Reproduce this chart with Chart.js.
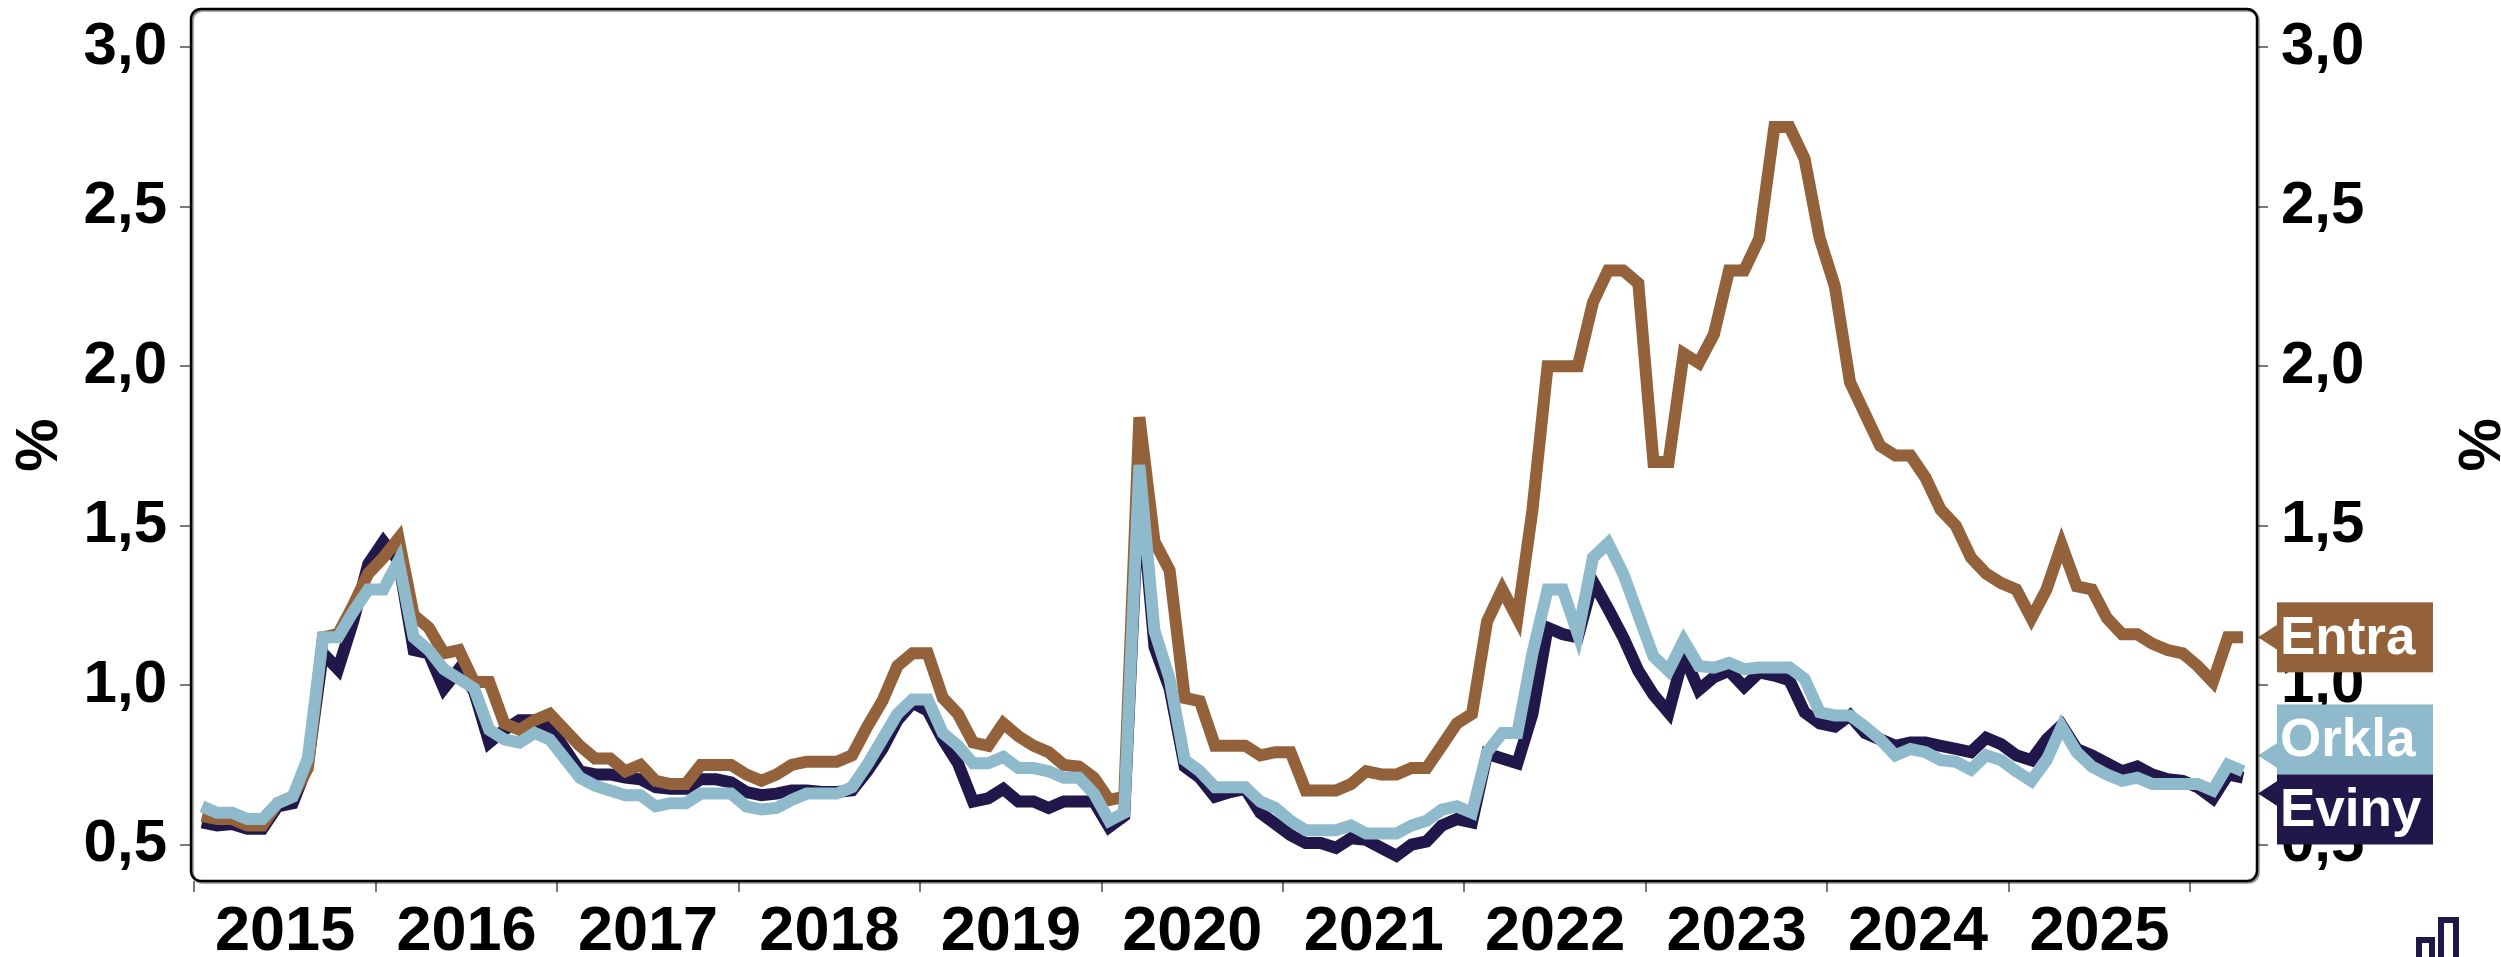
<!DOCTYPE html>
<html>
<head>
<meta charset="utf-8">
<script src="https://cdn.jsdelivr.net/npm/chart.js@4.4.1/dist/chart.umd.min.js"></script>
<style>
  html, body { margin: 0; padding: 0; background: #ffffff; }
  #wrap { width: 2501px; height: 957px; position: relative; }
</style>
</head>
<body>
<div id="wrap"><canvas id="c"></canvas></div>
<script>
// ---- data (monthly, Jan 2015 .. Apr 2026) ----
const yearLabels = ['2015','2016','2017','2018','2019','2020','2021','2022','2023','2024','2025'];
const yearTickCount = 12; // boundaries 2015..2026
const yTicks = [0.5, 1.0, 1.5, 2.0, 2.5, 3.0];
const seriesNames = ['Orkla', 'Entra', 'Eviny'];
const seriesColors = ['#8FBACB', '#94623A', '#21174A'];

const entra = [
  0.59,0.58,0.58,0.56,0.56,0.63,0.65,0.74,1.15,1.16,1.25,1.35,
  1.40,1.46,1.22,1.18,1.10,1.11,1.01,1.01,0.88,0.86,0.89,0.91,
  0.86,0.81,0.77,0.77,0.73,0.75,0.70,0.69,0.69,0.75,0.75,0.75,
  0.72,0.70,0.72,0.75,0.76,0.76,0.76,0.78,0.87,0.95,1.06,1.10,
  1.10,0.96,0.91,0.82,0.81,0.88,0.84,0.81,0.79,0.75,0.745,0.71,
  0.64,0.65,1.84,1.45,1.36,0.96,0.95,0.81,0.81,0.81,0.78,0.79,
  0.79,0.67,0.67,0.67,0.69,0.73,0.72,0.72,0.74,0.74,0.81,0.88,
  0.91,1.20,1.30,1.21,1.55,2.00,2.00,2.00,2.20,2.30,2.30,2.26,
  1.70,1.70,2.04,2.01,2.10,2.30,2.30,2.40,2.75,2.75,2.65,2.40,
  2.25,1.95,1.85,1.75,1.72,1.72,1.65,1.55,1.50,1.40,1.35,1.32,
  1.30,1.21,1.30,1.44,1.31,1.30,1.21,1.16,1.16,1.13,1.11,1.10,
  1.06,1.01,1.15,1.15
];
const orkla = [
  0.62,0.60,0.60,0.58,0.58,0.63,0.65,0.77,1.15,1.15,1.23,1.30,
  1.30,1.39,1.15,1.11,1.05,1.02,0.99,0.86,0.83,0.82,0.85,0.83,
  0.77,0.71,0.685,0.67,0.655,0.655,0.62,0.63,0.63,0.66,0.66,0.66,
  0.62,0.61,0.615,0.64,0.66,0.66,0.66,0.68,0.75,0.83,0.91,0.955,
  0.955,0.85,0.81,0.755,0.755,0.775,0.74,0.74,0.73,0.71,0.71,0.66,
  0.575,0.60,1.69,1.17,1.02,0.765,0.73,0.68,0.68,0.68,0.635,0.615,
  0.575,0.545,0.545,0.545,0.56,0.535,0.535,0.535,0.56,0.575,0.61,0.62,
  0.60,0.79,0.85,0.85,1.10,1.30,1.30,1.16,1.40,1.445,1.35,1.22,
  1.09,1.045,1.14,1.06,1.055,1.07,1.05,1.055,1.055,1.055,1.02,0.915,
  0.905,0.905,0.87,0.83,0.78,0.80,0.79,0.765,0.76,0.735,0.78,0.765,
  0.73,0.70,0.765,0.87,0.79,0.745,0.72,0.70,0.71,0.69,0.69,0.69,
  0.69,0.67,0.75,0.73
];
const eviny = [
  0.57,0.56,0.565,0.55,0.55,0.62,0.63,0.75,1.10,1.05,1.20,1.38,
  1.45,1.39,1.11,1.10,0.99,1.05,0.98,0.82,0.86,0.89,0.89,0.87,
  0.80,0.73,0.72,0.72,0.71,0.705,0.68,0.675,0.675,0.705,0.705,0.695,
  0.665,0.655,0.66,0.67,0.67,0.665,0.665,0.67,0.73,0.80,0.89,0.945,
  0.92,0.83,0.755,0.635,0.645,0.675,0.635,0.635,0.615,0.635,0.635,0.635,
  0.555,0.59,1.65,1.12,0.99,0.745,0.71,0.65,0.665,0.675,0.60,0.565,
  0.53,0.505,0.505,0.49,0.52,0.515,0.49,0.465,0.50,0.51,0.56,0.58,
  0.57,0.785,0.77,0.755,0.91,1.18,1.16,1.15,1.325,1.24,1.15,1.045,
  0.97,0.914,1.095,0.985,1.025,1.045,0.995,1.04,1.03,1.015,0.915,0.88,
  0.87,0.905,0.85,0.83,0.81,0.82,0.82,0.81,0.80,0.79,0.835,0.815,
  0.78,0.765,0.83,0.875,0.80,0.78,0.755,0.73,0.745,0.72,0.705,0.70,
  0.68,0.645,0.72,0.71
];
const seriesValues = [orkla, entra, eviny];

// ---- helpers ----
const FONT = "'Liberation Sans', Arial, sans-serif";
const toPoints = arr => arr.map((v, i) => ({ x: i + 0.5, y: v }));
const fmt = v => v.toFixed(1).replace('.', ',');
const noPad = s => { s.paddingTop = 0; s.paddingBottom = 0; s.paddingLeft = 0; s.paddingRight = 0; };

const frameAndDecor = {
  id: 'frameAndDecor',
  afterDraw(chart) {
    const ctx = chart.ctx, a = chart.chartArea;
    ctx.save();
    const r = 10, x0 = a.left, y0 = a.top, x1 = a.right, y1 = a.bottom;
    ctx.beginPath();
    ctx.moveTo(x0 + r, y0);
    ctx.lineTo(x1 - r, y0); ctx.arcTo(x1, y0, x1, y0 + r, r);
    ctx.lineTo(x1, y1 - r); ctx.arcTo(x1, y1, x1 - r, y1, r);
    ctx.lineTo(x0 + r, y1); ctx.arcTo(x0, y1, x0, y1 - r, r);
    ctx.lineTo(x0, y0 + r); ctx.arcTo(x0, y0, x0 + r, y0, r);
    ctx.closePath();
    ctx.shadowColor = 'rgba(0,0,0,0.45)';
    ctx.shadowOffsetX = 1.5; ctx.shadowOffsetY = 1.5; ctx.shadowBlur = 1;
    ctx.lineWidth = 2.5; ctx.strokeStyle = '#000';
    ctx.stroke();
    ctx.restore();

    // small logo glyph at bottom right
    ctx.save();
    ctx.strokeStyle = '#21174A'; ctx.lineWidth = 6;
    ctx.beginPath();
    ctx.moveTo(2419, 960); ctx.lineTo(2419, 940); ctx.lineTo(2432, 940); ctx.lineTo(2432, 960);
    ctx.moveTo(2441, 960); ctx.lineTo(2441, 920); ctx.lineTo(2456, 920); ctx.lineTo(2456, 960);
    ctx.stroke();
    ctx.restore();
  }
};

const endLabels = {
  id: 'endLabels',
  afterDatasetsDraw(chart) {
    const ctx = chart.ctx, a = chart.chartArea, ys = chart.scales.y;
    const H = 70, W = 156;
    const items = chart.data.datasets.map(ds => {
      const last = ds.data[ds.data.length - 1];
      return { name: ds.label, color: ds.borderColor, vy: ys.getPixelForValue(last.y) };
    }).sort((p, q) => p.vy - q.vy);
    let clusters = items.map(it => ({ items: [it], center: it.vy }));
    let merged = true;
    while (merged) {
      merged = false;
      for (let i = 0; i < clusters.length - 1; i++) {
        const c1 = clusters[i], c2 = clusters[i + 1];
        if (c1.center + c1.items.length * H / 2 > c2.center - c2.items.length * H / 2) {
          const its = c1.items.concat(c2.items);
          const center = its.reduce((s, it) => s + it.vy, 0) / its.length;
          clusters.splice(i, 2, { items: its, center });
          merged = true; break;
        }
      }
    }
    clusters.forEach(c => {
      let top = c.center - c.items.length * H / 2;
      c.items.forEach(it => { it.top = top; top += H; });
    });
    ctx.save();
    items.forEach(it => {
      const bx = a.right + 20, cy = it.top + H / 2;
      const tipY = (it.vy + cy) / 2;
      const by = Math.min(Math.max(tipY, it.top + 14), it.top + H - 14);
      ctx.fillStyle = it.color;
      ctx.fillRect(bx, it.top, W, H);
      ctx.beginPath();
      ctx.moveTo(a.right + 1, tipY);
      ctx.lineTo(bx + 1, by - 13);
      ctx.lineTo(bx + 1, by + 13);
      ctx.closePath();
      ctx.fill();
      ctx.fillStyle = '#ffffff';
      ctx.font = `bold 53px ${FONT}`;
      ctx.textAlign = 'left';
      ctx.textBaseline = 'middle';
      ctx.fillText(it.name, bx + 3, cy + 2);
    });
    ctx.restore();
  }
};

const yMin = 0.386, yMax = 3.12, xMin = -0.225, xMax = 136.42;

const yAxisCommon = {
  min: yMin, max: yMax,
  afterBuildTicks: s => { s.ticks = yTicks.map(v => ({ value: v })); },
  ticks: { callback: v => fmt(v), color: '#000', font: { family: FONT, size: 60, weight: 'bold' }, padding: 13 },
  grid: { drawOnChartArea: false, drawTicks: true, tickLength: 11, color: '#7a7a7a', lineWidth: 2 },
  border: { display: false },
  title: { display: true, text: '%', color: '#000', font: { family: FONT, size: 60, weight: 'bold' } }
};

new Chart(document.getElementById('c'), {
  type: 'line',
  data: {
    datasets: seriesNames.map((name, k) => ({
      label: name,
      data: toPoints(seriesValues[k]),
      borderColor: seriesColors[k],
      backgroundColor: seriesColors[k],
      borderWidth: 12,
      pointRadius: 0,
      tension: 0,
      fill: false,
      xAxisID: 'x',
      yAxisID: 'y'
    }))
  },
  options: {
    responsive: true,
    maintainAspectRatio: false,
    devicePixelRatio: 1,
    animation: false,
    layout: { padding: { top: 9, left: 0, right: 0, bottom: 0 } },
    plugins: { legend: { display: false }, tooltip: { enabled: false } },
    scales: {
      x: {
        type: 'linear', position: 'bottom', min: xMin, max: xMax, weight: 0,
        afterBuildTicks: s => { s.ticks = Array.from({ length: yearTickCount }, (_, k) => ({ value: k * 12 })); },
        afterFit: s => { s.height = 12; noPad(s); },
        ticks: { display: false },
        grid: { drawOnChartArea: false, drawTicks: true, tickLength: 11, color: '#7a7a7a', lineWidth: 2 },
        border: { display: false }
      },
      xl: {
        type: 'linear', position: 'bottom', min: xMin, max: xMax, weight: 1,
        afterBuildTicks: s => { s.ticks = yearLabels.map((_, k) => ({ value: k * 12 + 6 })); },
        afterFit: s => { s.height = 64; noPad(s); },
        ticks: {
          autoSkip: false, maxRotation: 0, minRotation: 0, padding: 2, color: '#000',
          font: { family: FONT, size: 63, weight: 'bold' },
          callback: (v, i) => yearLabels[i]
        },
        grid: { display: false, drawTicks: false },
        border: { display: false }
      },
      y: Object.assign({}, yAxisCommon, {
        position: 'left',
        afterFit: s => { s.width = 191; noPad(s); }
      }),
      y2: Object.assign({}, yAxisCommon, {
        position: 'right',
        afterFit: s => { s.width = 244; noPad(s); },
        title: Object.assign({}, yAxisCommon.title, { padding: { top: -11, bottom: 4 } })
      })
    }
  },
  plugins: [frameAndDecor, endLabels]
});
</script>
</body>
</html>
